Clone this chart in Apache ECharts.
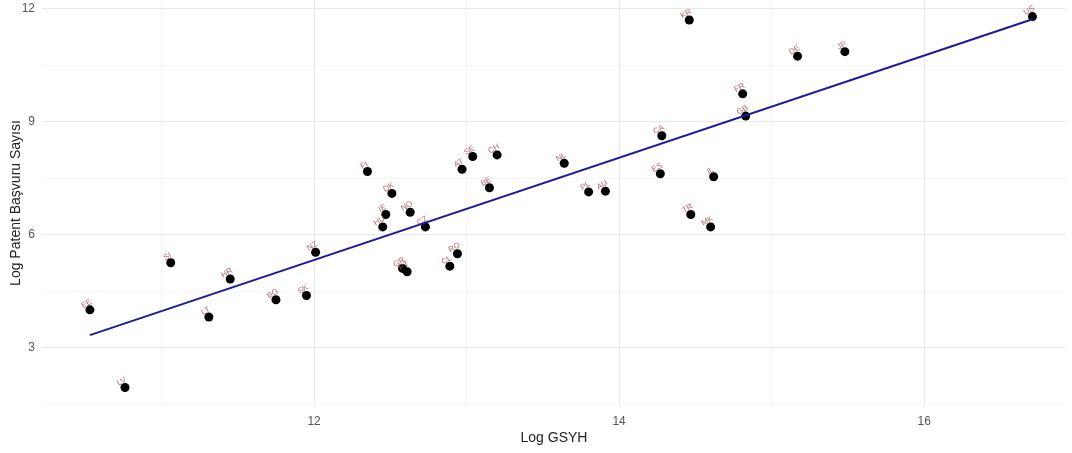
<!DOCTYPE html>
<html>
<head>
<meta charset="utf-8">
<script src="https://cdn.jsdelivr.net/npm/echarts@6/dist/echarts.min.js"></script>
<style>
  html, body { margin: 0; padding: 0; background: #ffffff; }
  #chart { width: 1072px; height: 453px; }
</style>
</head>
<body>
<div id="chart"></div>
<script>
// Country codes with log GDP (GSYH) and log patent application counts
const countries = ['EE','LV','SI','LT','HR','BG','SK','NZ','FI','DK','IE','HU','NO','CZ','GR','PT','CL','RO','AT','SE','CH','BE','NL','PL','AU','CA','ES','IL','TR','MK','KR','FR','GB','DE','JP','US'];
const logGdp = [10.53,10.76,11.06,11.31,11.45,11.75,11.95,12.01,12.35,12.51,12.47,12.45,12.63,12.73,12.58,12.61,12.89,12.94,12.97,13.04,13.20,13.15,13.64,13.80,13.91,14.28,14.27,14.62,14.47,14.60,14.46,14.81,14.83,15.17,15.48,16.71];
const logPatent = [4.00,1.94,5.25,3.81,4.82,4.27,4.38,5.53,7.67,7.09,6.53,6.20,6.59,6.20,5.10,5.01,5.16,5.49,7.73,8.07,8.11,7.24,7.89,7.13,7.15,8.62,7.61,7.53,6.53,6.20,11.69,9.73,9.14,10.73,10.85,11.78];

// Fitted linear trend, start and end points
const fitX = [10.53, 16.71];
const fitY = [3.33, 11.71];

// Axis ticks and grid positions
const xTicks = [12, 14, 16];
const xMinorGrid = [11, 13, 15];
const yTicks = [3, 6, 9, 12];
const yMinorGrid = [1.5, 4.5, 7.5, 10.5];

const FONT = '"Liberation Sans Narrow", "Liberation Sans", Arial, sans-serif';

const gridLines = [];
xTicks.forEach(v => gridLines.push({ xAxis: v, lineStyle: { color: '#e8e8e8', width: 1, type: 'solid' } }));
xMinorGrid.forEach(v => gridLines.push({ xAxis: v, lineStyle: { color: '#efefef', width: 0.6, type: 'solid' } }));
yTicks.forEach(v => gridLines.push({ yAxis: v, lineStyle: { color: '#e8e8e8', width: 1, type: 'solid' } }));
yMinorGrid.forEach(v => gridLines.push({ yAxis: v, lineStyle: { color: '#efefef', width: 0.6, type: 'solid' } }));

const chart = echarts.init(document.getElementById('chart'), null, { renderer: 'canvas' });

chart.setOption({
  animation: false,
  backgroundColor: '#ffffff',
  grid: { left: 42, right: 6, top: 0, bottom: 47, containLabel: false, outerBoundsMode: 'none' },
  xAxis: {
    type: 'value',
    min: 10.216,
    max: 16.93,
    name: 'Log GSYH',
    nameLocation: 'middle',
    nameGap: 25,
    nameMoveOverlap: false,
    nameTextStyle: { color: '#222222', fontSize: 14, fontFamily: FONT },
    axisLine: { show: false },
    axisTick: { show: false },
    splitLine: { show: false },
    axisLabel: { customValues: xTicks, color: '#555555', fontSize: 12, fontFamily: FONT, margin: 10 }
  },
  yAxis: {
    type: 'value',
    min: 1.45,
    max: 12.22,
    name: 'Log Patent Başvuru Sayısı',
    nameLocation: 'middle',
    nameGap: 19,
    nameMoveOverlap: false,
    nameTextStyle: { color: '#222222', fontSize: 14, fontFamily: FONT },
    axisLine: { show: false },
    axisTick: { show: false },
    splitLine: { show: false },
    axisLabel: { customValues: yTicks, color: '#555555', fontSize: 12, fontFamily: FONT, margin: 7 }
  },
  series: [
    {
      type: 'line',
      data: [],
      silent: true,
      markLine: {
        silent: true,
        symbol: 'none',
        label: { show: false },
        animation: false,
        z: 0,
        data: gridLines
      },
      z: 0
    },
    {
      type: 'scatter',
      symbol: 'circle',
      symbolSize: 9,
      itemStyle: { color: '#000000', opacity: 1 },
      data: countries.map((c, i) => ({ name: c, value: [logGdp[i], logPatent[i]] })),
      label: {
        show: true,
        formatter: p => p.name,
        position: 'top',
        distance: 0,
        offset: [-2, 1],
        rotate: 30,
        color: 'rgba(160, 80, 85, 0.85)',
        fontSize: 8,
        fontFamily: FONT
      },
      z: 3
    },
    {
      type: 'line',
      data: fitX.map((x, i) => [x, fitY[i]]),
      symbol: 'none',
      lineStyle: { color: '#1c1c96', width: 2 },
      silent: true,
      z: 4
    }
  ]
});
</script>
</body>
</html>
